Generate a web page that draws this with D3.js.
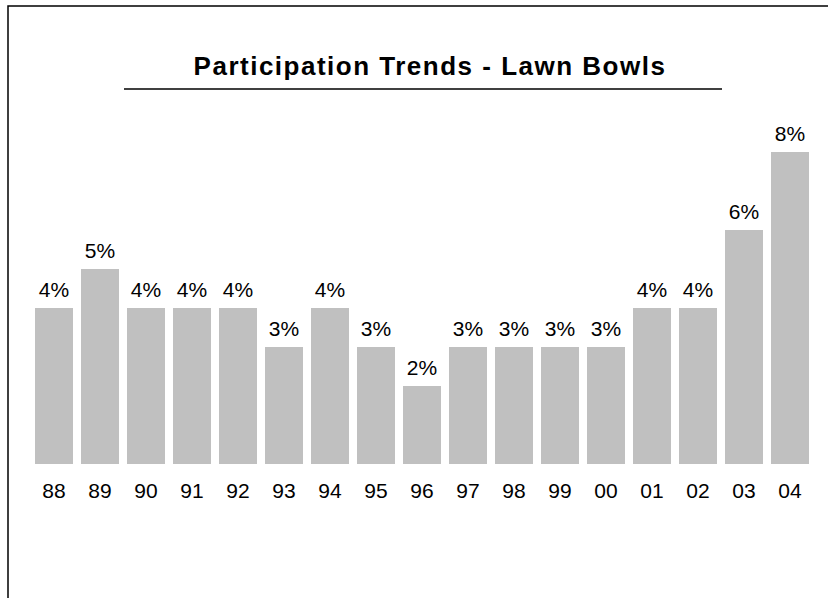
<!DOCTYPE html>
<html lang="en">
	<head>
		<meta charset="utf-8">
		<title>Participation Trends - Lawn Bowls</title>
		<script type="text/javascript" src="https://cdn.jsdelivr.net/npm/d3@7"></script>
		<style type="text/css">
			html, body {
				margin: 0;
				padding: 0;
				background-color: white;
			}
			svg {
				display: block;
			}
		</style>
	</head>
	<body>
		<script type="text/javascript">

			var w = 828;
			var h = 598;

			// data
			var years = ["88", "89", "90", "91", "92", "93", "94", "95", "96", "97", "98", "99", "00", "01", "02", "03", "04"];
			var participation = [4, 5, 4, 4, 4, 3, 4, 3, 2, 3, 3, 3, 3, 4, 4, 6, 8];
			var chartTitle = "Participation Trends - Lawn Bowls";

			var plotLeft = 31;
			var plotRight = 813;
			var baseY = 464;
			var topY = 152;

			var svg = d3.select("body")
						.append("svg")
						.attr("width", w)
						.attr("height", h);

			//frame lines (left and top)
			svg.append("path")
				.attr("d", "M8," + h + " L8,6 L" + w + ",6")
				.attr("fill", "none")
				.attr("stroke", "black")
				.attr("stroke-width", 1.5);

			var xScale = d3.scaleBand()
							.domain(years)
							.range([plotLeft, plotRight])
							.paddingInner(8 / 46)
							.paddingOuter(4 / 46);

			var yScale = d3.scaleLinear()
							.domain([0, 8])
							.range([baseY, topY]);

			//bars
			svg.selectAll("rect.bar")
				.data(participation)
				.enter()
				.append("rect")
				.attr("class", "bar")
				.attr("x", function(d, i) {
					return xScale(years[i]);
				})
				.attr("y", function(d) {
					return yScale(d);
				})
				.attr("width", xScale.bandwidth())
				.attr("height", function(d) {
					return baseY - yScale(d);
				})
				.attr("fill", "#c0c0c0");

			//value labels
			svg.selectAll("text.val")
				.data(participation)
				.enter()
				.append("text")
				.attr("class", "val")
				.text(function(d) {
					return d + "%";
				})
				.attr("x", function(d, i) {
					return xScale(years[i]) + xScale.bandwidth() / 2;
				})
				.attr("y", function(d) {
					return yScale(d) - 11;
				})
				.attr("text-anchor", "middle")
				.attr("font-family", "'Liberation Sans', Arial, sans-serif")
				.attr("font-size", "21px")
				.attr("fill", "black");

			//category labels
			var xAxis = d3.axisBottom(xScale)
							.tickSize(0)
							.tickPadding(0);

			var gx = svg.append("g")
						.attr("class", "axis")
						.attr("transform", "translate(0," + baseY + ")")
						.call(xAxis);

			gx.select(".domain").remove();
			gx.selectAll("text")
				.attr("dy", null)
				.attr("y", 34)
				.attr("font-family", "'Liberation Sans', Arial, sans-serif")
				.attr("font-size", "21px")
				.attr("fill", "black");

			//title and underline
			svg.append("text")
				.attr("id", "title")
				.text(chartTitle)
				.attr("x", 430)
				.attr("y", 75)
				.attr("text-anchor", "middle")
				.attr("font-family", "'Liberation Sans', Arial, sans-serif")
				.attr("font-weight", "bold")
				.attr("font-size", "26px")
				.attr("letter-spacing", "1.5px")
				.attr("fill", "black");

			svg.append("line")
				.attr("x1", 124)
				.attr("x2", 722)
				.attr("y1", 89)
				.attr("y2", 89)
				.attr("stroke", "black")
				.attr("stroke-width", 1.5);

		</script>
	</body>
</html>
